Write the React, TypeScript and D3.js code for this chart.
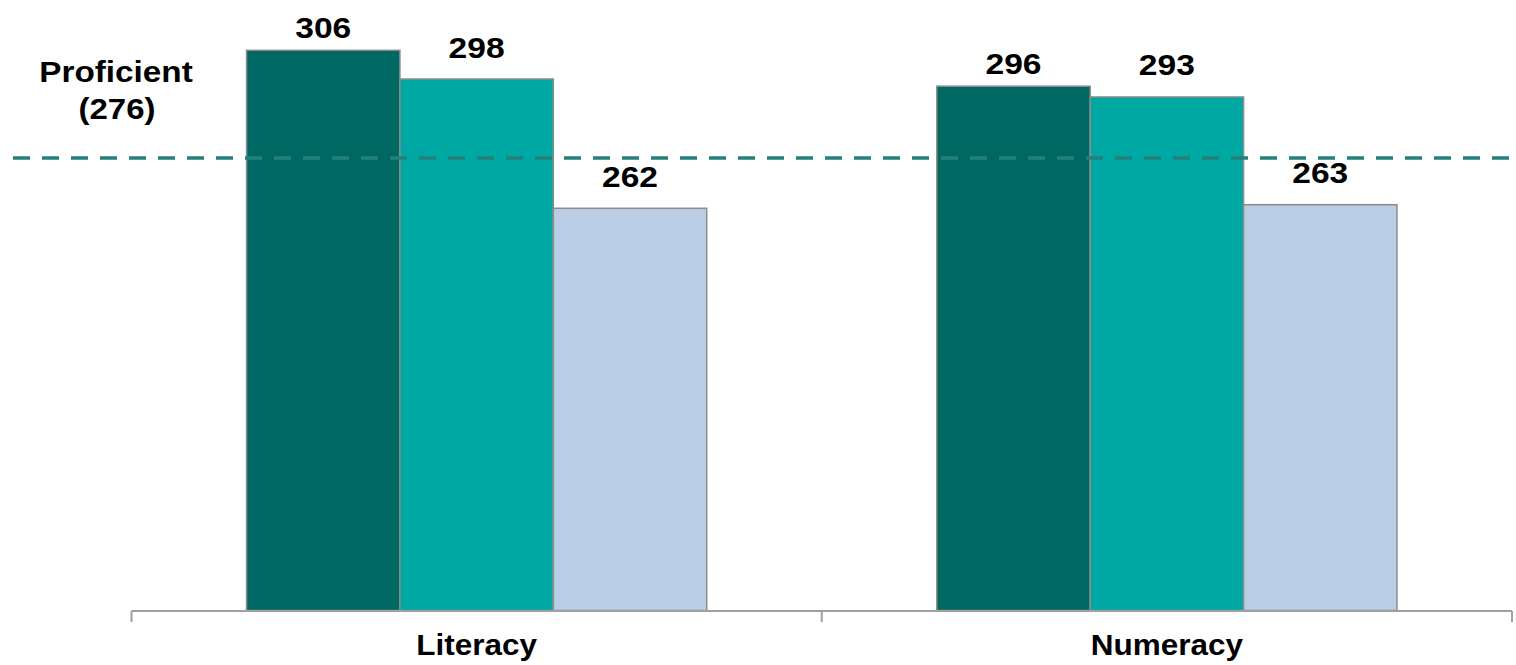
import React from "react";
import * as d3 from "d3";

// Mean scores by domain for the three groups
const categories = ["Literacy", "Numeracy"];
const seriesNames = ["Group A", "Group B", "Group C"];
const literacyScores = [306, 298, 262];
const numeracyScores = [296, 293, 263];
const proficientScore = 276;
const proficientLabel = ["Proficient", "(276)"];

const seriesColors = ["#006863", "#00A8A4", "#B9CDE5"];

const W = 1516;
const H = 665;

const font = "'Liberation Sans', Arial, sans-serif";

// Bold label, slightly widened horizontally around its anchor point
function Label({ x, y, text, sx = 1.07, size = 30 }: { x: number; y: number; text: string | number; sx?: number; size?: number }) {
  return (
    <text
      transform={`translate(${x},${y}) scale(${sx},1)`}
      fontFamily={font}
      fontWeight="bold"
      fontSize={size}
      textAnchor="middle"
      fill="#000"
    >
      {text}
    </text>
  );
}

export default function App() {
  const scores = [literacyScores, numeracyScores];

  const x0 = d3
    .scaleBand<string>()
    .domain(categories)
    .range([131.5, 1512])
    .paddingInner(1 / 3)
    .paddingOuter(1 / 6);

  const x1 = d3
    .scaleBand<string>()
    .domain(seriesNames)
    .range([0, x0.bandwidth()]);

  const y = d3.scaleLinear().domain([150, 320]).range([610.5, 0]);

  const step = x0.step();
  const [r0] = x0.range();
  const ticks = d3.range(categories.length + 1).map((i) => r0 + i * step);

  const labelGap = (i: number) => (i === 0 ? 12 : 21.5);

  return (
    <div style={{ position: "absolute", left: 0, top: 0 }}>
      <svg width={W} height={H} style={{ display: "block", background: "#fff" }}>
        {/* bars */}
        {categories.map((cat, ci) => (
          <g key={cat} transform={`translate(${x0(cat)},0)`}>
            {seriesNames.map((s, si) => {
              const v = scores[ci][si];
              return (
                <rect
                  key={s}
                  x={x1(s)}
                  y={y(v)}
                  width={x1.bandwidth()}
                  height={y(150) - y(v)}
                  fill={seriesColors[si]}
                  stroke="#8C8C8C"
                  strokeWidth={1.5}
                />
              );
            })}
          </g>
        ))}

        {/* proficiency threshold */}
        <line
          x1={13}
          x2={W}
          y1={y(proficientScore)}
          y2={y(proficientScore)}
          stroke="#23807B"
          strokeWidth={3.5}
          strokeDasharray="17 12"
        />
        <Label x={116} y={81.5} text={proficientLabel[0]} sx={1.11} />
        <Label x={117} y={119} text={proficientLabel[1]} sx={1.1} />

        {/* value labels */}
        {categories.map((cat, ci) =>
          seriesNames.map((s, si) => {
            const v = scores[ci][si];
            return (
              <Label
                key={`${cat}-${s}`}
                x={(x0(cat) ?? 0) + (x1(s) ?? 0) + x1.bandwidth() / 2}
                y={y(v) - labelGap(si)}
                text={v}
                sx={1.12}
              />
            );
          })
        )}

        {/* category axis */}
        <line x1={r0} x2={ticks[ticks.length - 1]} y1={611} y2={611} stroke="#A0A0A0" strokeWidth={2} />
        {ticks.map((t, i) => (
          <line key={i} x1={t} x2={t} y1={611} y2={622} stroke="#A0A0A0" strokeWidth={2} />
        ))}
        {categories.map((cat) => (
          <Label key={cat} x={(x0(cat) ?? 0) + x0.bandwidth() / 2} y={655} text={cat} sx={1.05} />
        ))}
      </svg>
    </div>
  );
}
